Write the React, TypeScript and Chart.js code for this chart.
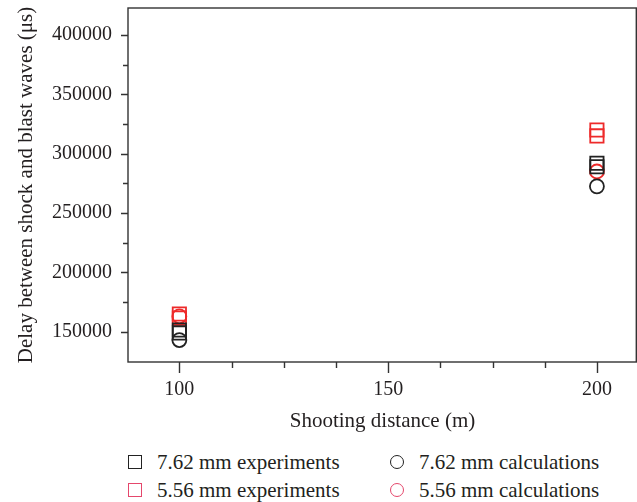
import React, { useEffect, useRef } from "react";
import { Chart, registerables } from "chart.js";

Chart.register(...registerables);

// ---- data ----
const EXP_762_X = [100, 100, 200, 200];
const EXP_762_Y = [151500, 149000, 292000, 289000];
const EXP_556_X = [100, 100, 200, 200];
const EXP_556_Y = [165000, 161500, 320000, 315000];
const CALC_762_X = [100, 200];
const CALC_762_Y = [143000, 272500];
const CALC_556_X = [100, 200];
const CALC_556_Y = [163000, 285000];

const X_MAJOR = [100, 150, 200];
const X_MINOR = [112.5, 125, 137.5, 162.5, 175, 187.5];
const Y_MAJOR = [150000, 200000, 250000, 300000, 350000, 400000];
const Y_MINOR = [175000, 225000, 275000, 325000, 375000];

const X_MIN = 87.7;
const X_MAX = 209.6;
const Y_MIN = 124500;
const Y_MAX = 422750;

const LEGEND = [
  { label: "7.62 mm experiments", shape: "square", color: "#222222" },
  { label: "7.62 mm calculations", shape: "circle", color: "#222222" },
  { label: "5.56 mm experiments", shape: "square", color: "#e5476c" },
  { label: "5.56 mm calculations", shape: "circle", color: "#e5476c" },
];

const BLACK = "#222222";
const RED = "#ee2a2a";
const AXIS = "#333333";
const TEXT = "#231f20";
const FONT = "'Liberation Serif', 'Times New Roman', serif";

// layout of the plot frame inside the canvas
const AREA = { left: 128, top: 8, right: 637, bottom: 362 };
const CANVAS_W = 637;
const CANVAS_H = 440;

const pts = (xs: number[], ys: number[]) => xs.map((x, i) => ({ x, y: ys[i] }));

const fixArea = {
  id: "fixArea",
  afterLayout(chart: any) {
    const { left: L, top: T, right: R, bottom: B } = AREA;
    const x = chart.scales.x;
    const y = chart.scales.y;
    chart.chartArea = { left: L, top: T, right: R, bottom: B, width: R - L, height: B - T };
    x.left = L; x.right = R; x.width = R - L;
    x.top = B; x.bottom = CANVAS_H; x.height = CANVAS_H - B;
    y.left = 0; y.right = L; y.width = L;
    y.top = T; y.bottom = B; y.height = B - T;
    x.configure();
    y.configure();
  },
};

const boxTicks = {
  id: "boxTicks",
  afterDraw(chart: any) {
    const { ctx, chartArea: a, scales } = chart;
    const x = scales.x;
    const y = scales.y;
    ctx.save();
    ctx.strokeStyle = AXIS;
    ctx.lineWidth = 1.4;
    ctx.strokeRect(a.left, a.top, a.right - a.left - 0.7, a.bottom - a.top);
    ctx.beginPath();
    for (const v of X_MAJOR) {
      const px = Math.round(x.getPixelForValue(v)) + 0.5;
      ctx.moveTo(px, a.bottom);
      ctx.lineTo(px, a.bottom + 11);
    }
    for (const v of X_MINOR) {
      const px = Math.round(x.getPixelForValue(v)) + 0.5;
      ctx.moveTo(px, a.bottom);
      ctx.lineTo(px, a.bottom + 6);
    }
    for (const v of Y_MAJOR) {
      const py = Math.round(y.getPixelForValue(v)) + 0.5;
      ctx.moveTo(a.left, py);
      ctx.lineTo(a.left - 7, py);
    }
    for (const v of Y_MINOR) {
      const py = Math.round(y.getPixelForValue(v)) + 0.5;
      ctx.moveTo(a.left, py);
      ctx.lineTo(a.left - 5, py);
    }
    ctx.stroke();
    ctx.restore();
  },
};

export default function App() {
  const ref = useRef<HTMLCanvasElement | null>(null);

  useEffect(() => {
    if (!ref.current) return;
    const chart = new Chart(ref.current, {
      type: "scatter",
      data: {
        datasets: [
          {
            label: "7.62 mm experiments",
            data: pts(EXP_762_X, EXP_762_Y),
            pointStyle: "rect",
            pointRadius: 9.4,
            borderColor: BLACK,
            backgroundColor: "rgba(0,0,0,0)",
            borderWidth: 1.8,
          },
          {
            label: "7.62 mm calculations",
            data: pts(CALC_762_X, CALC_762_Y),
            pointStyle: "circle",
            pointRadius: 7,
            borderColor: BLACK,
            backgroundColor: "rgba(0,0,0,0)",
            borderWidth: 1.8,
          },
          {
            label: "5.56 mm experiments",
            data: pts(EXP_556_X, EXP_556_Y),
            pointStyle: "rect",
            pointRadius: 9.4,
            borderColor: RED,
            backgroundColor: "rgba(0,0,0,0)",
            borderWidth: 1.8,
          },
          {
            label: "5.56 mm calculations",
            data: pts(CALC_556_X, CALC_556_Y),
            pointStyle: "circle",
            pointRadius: 7,
            borderColor: RED,
            backgroundColor: "rgba(0,0,0,0)",
            borderWidth: 1.8,
          },
        ],
      },
      options: {
        responsive: false,
        maintainAspectRatio: false,
        animation: false,
        layout: { padding: { top: 8, right: 0, left: 0, bottom: 0 } },
        plugins: { legend: { display: false }, tooltip: { enabled: false } },
        scales: {
          x: {
            type: "linear",
            min: X_MIN,
            max: X_MAX,
            afterBuildTicks: (s: any) => {
              s.ticks = X_MAJOR.map((v) => ({ value: v }));
            },
            grid: { display: false, drawTicks: false },
            border: { display: false },
            ticks: {
              padding: 16,
              color: TEXT,
              font: { family: FONT, size: 20 },
              maxRotation: 0,
              autoSkip: false,
            },
            title: {
              display: true,
              text: "Shooting distance (m)",
              color: TEXT,
              font: { family: FONT, size: 21 },
              padding: { top: 0, bottom: 6 },
            },
          },
          y: {
            type: "linear",
            min: Y_MIN,
            max: Y_MAX,
            afterBuildTicks: (s: any) => {
              s.ticks = Y_MAJOR.map((v) => ({ value: v }));
            },
            grid: { display: false, drawTicks: false },
            border: { display: false },
            ticks: {
              padding: 16,
              color: TEXT,
              font: { family: FONT, size: 20 },
              callback: (v: any) => String(v),
              autoSkip: false,
            },
            title: {
              display: true,
              text: "Delay between shock and blast waves (μs)",
              color: TEXT,
              font: { family: FONT, size: 21 },
              padding: { top: 14, bottom: 0 },
            },
          },
        },
      },
      plugins: [fixArea, boxTicks],
    });
    return () => chart.destroy();
  }, []);

  const rows = [461.5, 490];
  const cols = [135, 397];

  return (
    <div style={{ position: "absolute", left: 0, top: 0, width: 637, height: 502, background: "#fff" }}>
      <canvas
        ref={ref}
        width={CANVAS_W}
        height={CANVAS_H}
        style={{ position: "absolute", left: 0, top: 0, width: CANVAS_W, height: CANVAS_H }}
      />
      {LEGEND.map((item, i) => {
        const cx = cols[i % 2];
        const cy = rows[Math.floor(i / 2)];
        const size = 14;
        return (
          <React.Fragment key={item.label}>
            <div
              style={{
                position: "absolute",
                left: cx - size / 2,
                top: cy - size / 2,
                width: size,
                height: size,
                boxSizing: "border-box",
                border: `1.5px solid ${item.color}`,
                borderRadius: item.shape === "circle" ? "50%" : 0,
              }}
            />
            <div
              style={{
                position: "absolute",
                left: cx + 22,
                top: cy - 13,
                height: 26,
                lineHeight: "26px",
                fontFamily: FONT,
                fontSize: 21,
                color: TEXT,
                whiteSpace: "nowrap",
              }}
            >
              {item.label}
            </div>
          </React.Fragment>
        );
      })}
    </div>
  );
}
